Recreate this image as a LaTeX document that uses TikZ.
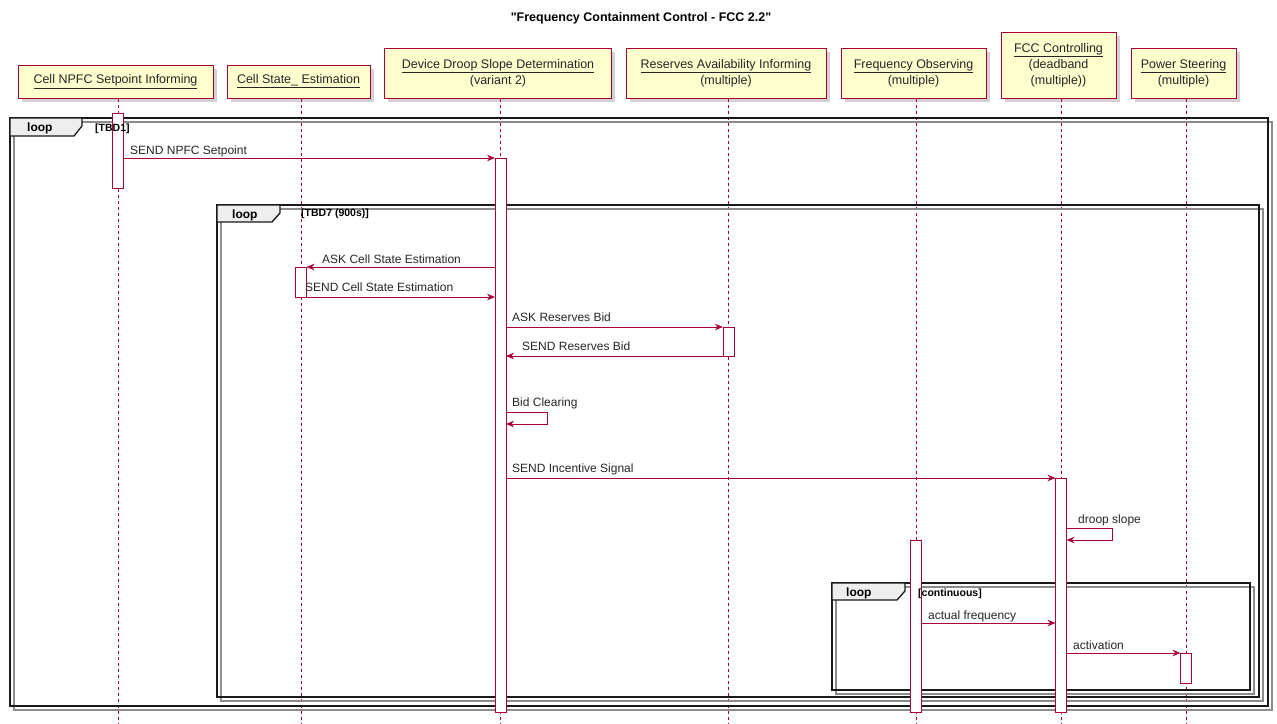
\documentclass[tikz,border=0pt]{standalone}
\usepackage{fontspec}
\setmainfont{Liberation Sans}
\usetikzlibrary{arrows.meta,shadows}
\definecolor{umlred}{HTML}{A80036}
\definecolor{umlfill}{HTML}{FEFECE}
\definecolor{tabfill}{HTML}{EEEEEE}
% straight double quote glyph, placed directly so that no text mapping curls it
\newcommand{\straightquote}{\XeTeXglyph\XeTeXcharglyph"22\relax}
\begin{document}
\begin{tikzpicture}[x=1pt,y=-1pt,
  part/.style={draw=umlred, fill=umlfill, line width=0.9pt, inner sep=0pt, align=center,
    font=\fontsize{12.5}{16}\selectfont, text=black!85,
    drop shadow={shadow xshift=3.5pt, shadow yshift=-3.5pt, opacity=0.35}},
  life/.style={draw=umlred, line width=0.7pt, dash pattern=on 3pt off 3pt},
  actbar/.style={draw=umlred, fill=white, line width=0.8pt},
  msg/.style={draw=umlred, line width=0.8pt, -{Stealth[length=8pt,width=6.5pt]}},
  mlabel/.style={anchor=base west, inner sep=0pt, font=\fontsize{12}{14}\selectfont, text=black!85},
  frame/.style={draw=black!90, line width=1.6pt},
  fshadow/.style={draw=black!45, line width=2pt},
  tab/.style={draw=black!90, fill=tabfill, line width=1.3pt},
  tabtext/.style={anchor=base west, inner sep=0pt, font=\bfseries\fontsize{12}{14}\selectfont},
  guard/.style={anchor=base west, inner sep=0pt, font=\bfseries\fontsize{10.5}{12}\selectfont}
]
\useasboundingbox (0,0) rectangle (1277,723);
\fill[white] (0,0) rectangle (1277,723);

% title
\node[font=\bfseries\fontsize{12.5}{15}\selectfont] (title) at (641,18)
  {\straightquote Frequency Containment Control - FCC 2.2\straightquote};

% participants
\node[part, minimum width=195pt, minimum height=33pt] (p1) at (115.5,81.5) {\underline{Cell NPFC Setpoint Informing}};
\node[part, minimum width=143pt, minimum height=33pt] (p2) at (298.5,81.5) {\underline{Cell State\_ Estimation}};
\node[part, minimum width=227pt, minimum height=50pt] (p3) at (498,73) {\underline{Device Droop Slope Determination}\\(variant 2)};
\node[part, minimum width=200pt, minimum height=50pt] (p4) at (726,73) {\underline{Reserves Availability Informing}\\(multiple)};
\node[part, minimum width=145pt, minimum height=50pt] (p5) at (913.5,73) {\underline{Frequency Observing}\\(multiple)};
\node[part, minimum width=115pt, minimum height=66pt] (p6) at (1058.5,65) {\underline{FCC Controlling}\\(deadband\\(multiple))};
\node[part, minimum width=105pt, minimum height=50pt] (p7) at (1183.5,73) {\underline{Power Steering}\\(multiple)};

% lifelines
\foreach \i/\lx in {1/118,2/301,3/500.5,4/728.5,5/916,6/1061,7/1186}{
  \coordinate (t\i) at (\lx,98.5);
  \coordinate (b\i) at (\lx,723);
  \draw[life] (t\i) -- (b\i);
}

% loop frames: shadows first, then outlines
\draw[fshadow] (14,122) rectangle (1272,710);
\draw[frame] (10,118) rectangle (1268,706);
\draw[fshadow] (221,209) rectangle (1263,701);
\draw[frame] (217,205) rectangle (1259,697);
\draw[fshadow] (836,587) rectangle (1254,694);
\draw[frame] (832,583) rectangle (1250,690);

% loop tabs
\draw[tab] (10,118) -- (82,118) -- (82,126) -- (74,136) -- (10,136) -- cycle;
\node[tabtext] (l1) at (27,131.5) {loop};
\draw[tab] (217,205) -- (280,205) -- (280,213) -- (272,222) -- (217,222) -- cycle;
\node[tabtext] (l2) at (232,218) {loop};
\node[guard] (g2) at (301,216.5) {[TBD7 (900s)]};
\draw[tab] (832,583) -- (905,583) -- (905,591) -- (897,600) -- (832,600) -- cycle;
\node[tabtext] (l3) at (846,596.5) {loop};

% activation bars
\draw[actbar] (112.5,113) rectangle (123.5,188);
\draw[actbar] (495,158) rectangle (506,712);
\draw[actbar] (295.5,267) rectangle (306.5,297);
\draw[actbar] (723,327) rectangle (734,356);
\draw[actbar] (1055.5,478) rectangle (1066.5,712);
\draw[actbar] (910.5,540) rectangle (921.5,712);
\draw[actbar] (1180.5,653) rectangle (1191.5,683);

% guards printed over the bars
\node[guard] (g1) at (95,131) {[TBD1]};
\node[guard] (g3) at (918,596.5) {[continuous]};

% message end points
\coordinate (m1s) at (123.5,158);  \coordinate (m1e) at (495,158);
\coordinate (m2s) at (495,267);    \coordinate (m2e) at (306.5,267);
\coordinate (m3s) at (306.5,297);  \coordinate (m3e) at (495,297);
\coordinate (m4s) at (506,327);    \coordinate (m4e) at (723,327);
\coordinate (m5s) at (723,356);    \coordinate (m5e) at (506,356);
\coordinate (m6s) at (506,412);    \coordinate (m6e) at (506,424);
\coordinate (m7s) at (506,478);    \coordinate (m7e) at (1055.5,478);
\coordinate (m8s) at (1066.5,528); \coordinate (m8e) at (1066.5,540);
\coordinate (m9s) at (921.5,623);  \coordinate (m9e) at (1055.5,623);
\coordinate (m10s) at (1066.5,653); \coordinate (m10e) at (1180.5,653);

% messages
\draw[msg] (m1s) -- (m1e);
\node[mlabel] (n1) at (130,154.5) {SEND NPFC Setpoint};
\draw[msg] (m2s) -- (m2e);
\node[mlabel] (n2) at (322,263) {ASK Cell State Estimation};
\draw[msg] (m3s) -- (m3e);
\node[mlabel] (n3) at (305,291.5) {SEND Cell State Estimation};
\draw[msg] (m4s) -- (m4e);
\node[mlabel] (n4) at (512,321.5) {ASK Reserves Bid};
\draw[msg] (m5s) -- (m5e);
\node[mlabel] (n5) at (522,350.5) {SEND Reserves Bid};
\draw[msg] (m6s) -- ++(41,0) -- ++(0,12) -- (m6e);
\node[mlabel] (n6) at (512,406) {Bid Clearing};
\draw[msg] (m7s) -- (m7e);
\node[mlabel] (n7) at (512,472) {SEND Incentive Signal};
\draw[msg] (m8s) -- ++(45.5,0) -- ++(0,12) -- (m8e);
\node[mlabel] (n8) at (1078,523) {droop slope};
\draw[msg] (m9s) -- (m9e);
\node[mlabel] (n9) at (928,619) {actual frequency};
\draw[msg] (m10s) -- (m10e);
\node[mlabel] (n10) at (1073,649) {activation};
\end{tikzpicture}
\end{document}
